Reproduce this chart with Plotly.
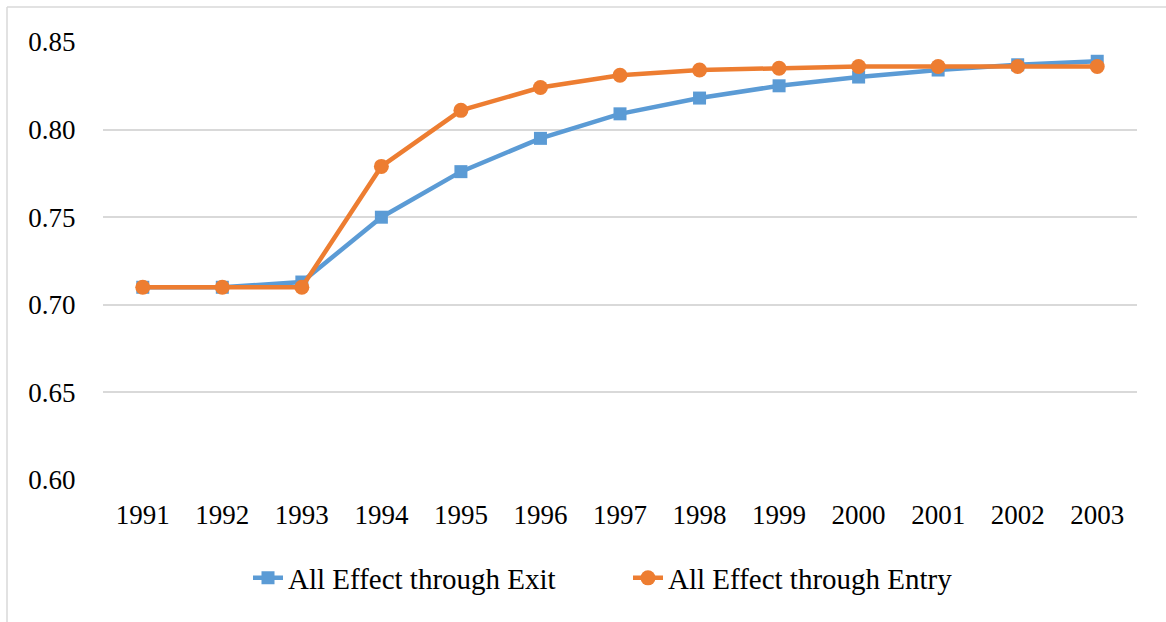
import plotly.graph_objects as go

years = ["1991", "1992", "1993", "1994", "1995", "1996", "1997",
         "1998", "1999", "2000", "2001", "2002", "2003"]
exit_effect = [0.710, 0.710, 0.713, 0.750, 0.776, 0.795, 0.809,
               0.818, 0.825, 0.830, 0.834, 0.837, 0.839]
entry_effect = [0.710, 0.710, 0.710, 0.779, 0.811, 0.824, 0.831,
                0.834, 0.835, 0.836, 0.836, 0.836, 0.836]
y_ticks = [0.60, 0.65, 0.70, 0.75, 0.80, 0.85]

BLUE = "#5B9BD5"
ORANGE = "#ED7D31"
FONT = "Liberation Serif, Times New Roman, serif"

fig = go.Figure()
fig.add_trace(go.Scatter(
    x=years, y=exit_effect, name="All Effect through Exit",
    mode="lines+markers",
    line=dict(color=BLUE, width=4.5),
    marker=dict(symbol="square", size=13, color=BLUE),
))
fig.add_trace(go.Scatter(
    x=years, y=entry_effect, name="All Effect through Entry",
    mode="lines+markers",
    line=dict(color=ORANGE, width=4.5),
    marker=dict(symbol="circle", size=15, color=ORANGE),
))

W, H = 1166, 622
ml, mr, mt, mb = 103, 29, 42, 142
pw, ph = W - ml - mr, H - mt - mb

# outer frame (left and top edges of the chart area)
fx = (7 - ml) / pw
fy = 1 + (mt - 7) / ph
frame = dict(color="#D9D9D9", width=1.5)
fig.add_shape(type="line", xref="paper", yref="paper",
              x0=fx, x1=fx, y0=fy, y1=-(mb + 10) / ph, line=frame)
fig.add_shape(type="line", xref="paper", yref="paper",
              x0=fx, x1=(W - ml + 10) / pw, y0=fy, y1=fy, line=frame)

fig.update_layout(
    width=W, height=H,
    margin=dict(l=ml, r=mr, t=mt, b=mb),
    paper_bgcolor="white", plot_bgcolor="white",
    font=dict(family=FONT, size=27, color="black"),
    showlegend=True,
    legend=dict(
        orientation="h", x=(248 - ml) / pw, xanchor="left",
        y=-(578 - H + mb) / ph, yanchor="middle",
        font=dict(family=FONT, size=29, color="black"),
        entrywidth=335, entrywidthmode="pixels",
    ),
    xaxis=dict(
        type="category", range=[-0.5, len(years) - 0.5],
        showgrid=False, zeroline=False, showline=False,
        ticks="outside", ticklen=11, tickcolor="rgba(0,0,0,0)",
        tickfont=dict(family=FONT, size=27, color="black"),
    ),
    yaxis=dict(
        range=[0.60, 0.85], tickvals=y_ticks,
        ticktext=[f"{v:.2f}" for v in y_ticks],
        showgrid=True, gridcolor="#D9D9D9", gridwidth=1.5,
        zeroline=False, showline=False,
        ticks="outside", ticklen=21, tickcolor="rgba(0,0,0,0)",
        tickfont=dict(family=FONT, size=27, color="black"),
    ),
)

fig.write_html("out.html")
